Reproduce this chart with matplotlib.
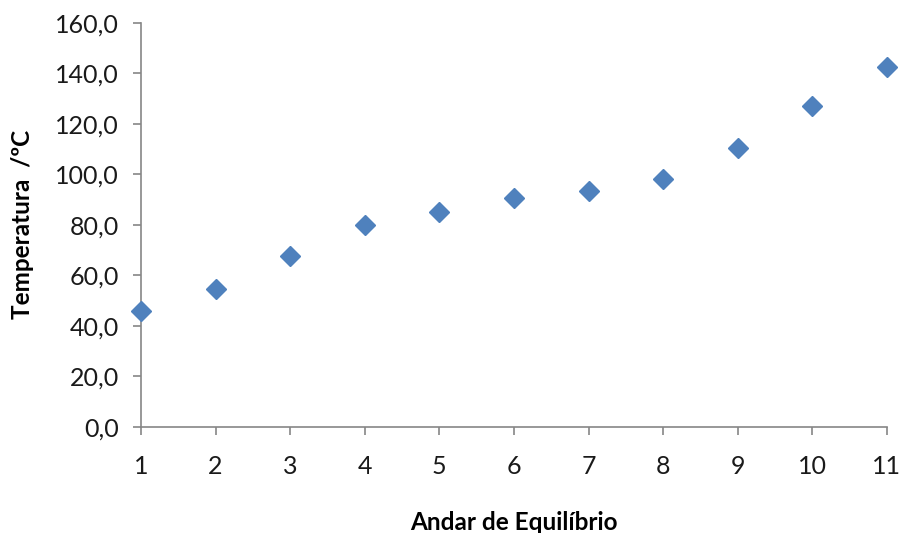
import matplotlib.pyplot as plt
from matplotlib.ticker import FuncFormatter

# Temperature on each equilibrium stage
stages = [1, 2, 3, 4, 5, 6, 7, 8, 9, 10, 11]
temperatures = [45.9, 54.7, 67.7, 80.0, 85.1, 90.7, 93.5, 98.2, 110.5, 127.1, 142.6]
y_ticks = [0, 20, 40, 60, 80, 100, 120, 140, 160]

plt.rcParams["font.family"] = ["Lato", "DejaVu Sans"]

fig = plt.figure(figsize=(9.04, 5.33), dpi=100)
ax = fig.add_axes([0.156, 0.199, 0.825, 0.758])

ax.plot(stages, temperatures, linestyle="none", marker="D", markersize=10,
        color="#4F81BD", clip_on=False, zorder=3)

ax.set_xlim(1, 11)
ax.set_ylim(0, 160)
ax.set_xticks(stages)
ax.set_yticks(y_ticks)
ax.yaxis.set_major_formatter(FuncFormatter(lambda v, _: f"{v:.1f}".replace(".", ",")))

for side in ("top", "right"):
    ax.spines[side].set_visible(False)
for side in ("left", "bottom"):
    ax.spines[side].set_color("#868686")
    ax.spines[side].set_linewidth(1.2)

ax.tick_params(axis="both", direction="out", length=6, width=1.2, color="#868686",
               labelsize=18, labelcolor="#1a1a1a")
ax.tick_params(axis="x", pad=14)
ax.tick_params(axis="y", pad=10)

ax.set_xlabel("Andar de Equilíbrio", fontsize=17.5, fontweight="bold", labelpad=24)
ax.set_ylabel("Temperatura  /ºC", fontsize=17.5, fontweight="bold", labelpad=15)

fig.savefig("out.png", dpi=100)
